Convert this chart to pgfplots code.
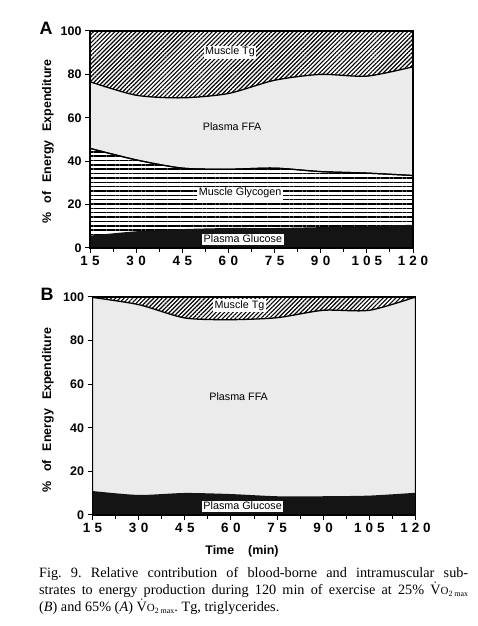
\documentclass[border=0pt]{standalone}
\usepackage{fontspec}
\setmainfont{Liberation Serif}
\newfontfamily\hv{Liberation Sans}
\usepackage{pgfplots}
\usepackage{pgfplotstable}
\pgfplotsset{compat=1.18}
\usetikzlibrary{patterns.meta}

% cumulative upper boundaries (% of energy expenditure)
\pgfplotstableread{
t   glu   gly   ffa   top
15  5.7   45.9  76.6  100
30  7.7   40.6  70.4  100
45  8.7   36.8  69.2  100
60  9.2   36.3  71.2  100
75  9.2   36.8  77.3  100
90  9.6   35.2  80.0  100
105 10.0  34.5  79.2  100
120 10.7  33.4  83.5  100
}\dataA
\pgfplotstableread{
t   glu   ffa   top
15  11.0  99.8  100
30  9.2   96.5  100
45  10.1  90.4  100
60  9.6   89.6  100
75  8.6   90.5  100
90  8.6   93.9  100
105 8.9   93.9  100
120 10.2  100   100
}\dataB

\definecolor{ffagray}{gray}{0.92}

\tikzset{
  tgfill/.style={draw=none, preaction={fill=white},
    pattern={Lines[angle=45,distance=3bp,line width=1.15bp]}},
  ffafill/.style={fill=ffagray, draw=black, line width=1.3bp},
  glyfill/.style={preaction={fill=white}, draw=black, line width=1.2bp,
    pattern={Lines[angle=0,distance=4.35bp,line width=1.5bp]}},
  glufill/.style={fill=black!92, draw=none},
  lab/.style={fill=white, inner sep=1.5bp, font=\hv\fontsize{10.8}{11}\selectfont},
}

\pgfplotsset{
  panel/.style={
    anchor=south west, scale only axis,
    width=323bp, height=217bp,
    xmin=15, xmax=120, ymin=0, ymax=100,
    xtick={15,30,...,120},
    minor xtick={22.5,37.5,...,112.5},
    ytick={0,20,...,100},
    yticklabels={0,20,40,60,80,100},
    xticklabels={1\hspace{4.5bp}5,3\hspace{4.5bp}0,4\hspace{4.5bp}5,6\hspace{4.5bp}0,7\hspace{4.5bp}5,9\hspace{4.5bp}0,1\hspace{4bp}0\hspace{4bp}5,1\hspace{4bp}2\hspace{4bp}0},
    tick align=outside, xtick pos=bottom, ytick pos=left,
    major tick length=5bp, minor tick length=4bp,
    every tick/.style={black, line width=1bp},
    axis line style={line width=1.3bp},
    xticklabel style={font=\hv\bfseries\fontsize{13.5}{14}\selectfont},
    yticklabel style={font=\hv\bfseries\fontsize{12.5}{14}\selectfont},
    axis on top,
    clip=true,
  },
}

\begin{document}
\frenchspacing
\begin{tikzpicture}[x=1bp,y=1bp]
\useasboundingbox (0,0) rectangle (478,626);

% ---------- Panel A ----------
\begin{axis}[panel, at={(90bp,378bp)}]
\addplot[tgfill] table[x=t,y=top]{\dataA} \closedcycle;
\addplot[ffafill, smooth, tension=0.45] table[x=t,y=ffa]{\dataA} \closedcycle;
\addplot[glyfill, smooth, tension=0.45] table[x=t,y=gly]{\dataA} \closedcycle;
\addplot[glufill, smooth, tension=0.45] table[x=t,y=glu]{\dataA} \closedcycle;
\node[lab] at (axis cs:60.5,90.3) {Muscle Tg};
\node[lab, fill=none] at (axis cs:61.2,55.8) {Plasma FFA};
\node[lab] at (axis cs:63.8,25.3) {Muscle Glycogen};
\node[lab] at (axis cs:64.7,4.1) {Plasma Glucose};
\end{axis}

% ---------- Panel B ----------
\begin{axis}[panel, at={(92.5bp,111bp)}, height=218bp]
\addplot[tgfill] table[x=t,y=top]{\dataB} \closedcycle;
\addplot[ffafill, smooth, tension=0.45] table[x=t,y=ffa]{\dataB} \closedcycle;
\addplot[glufill, smooth, tension=0.45] table[x=t,y=glu]{\dataB} \closedcycle;
\node[lab] at (axis cs:62.8,95.9) {Muscle Tg};
\node[lab, fill=none] at (axis cs:62.5,54.3) {Plasma FFA};
\node[lab] at (axis cs:63.8,4.1) {Plasma Glucose};
\end{axis}

% panel letters
\node[font=\hv\bfseries\fontsize{18}{18}\selectfont] at (46,598) {A};
\node[font=\hv\bfseries\fontsize{18}{18}\selectfont] at (47,332) {B};

% y labels
\node[rotate=90, font=\hv\bfseries\fontsize{12.5}{14}\selectfont] at (48,484.5)
  {\%\hspace{9bp}of\hspace{9bp}Energy\hspace{9bp}Expenditure};
\node[rotate=90, font=\hv\bfseries\fontsize{12.5}{14}\selectfont] at (48,216)
  {\%\hspace{9bp}of\hspace{9bp}Energy\hspace{9bp}Expenditure};

% x label
\node[font=\hv\bfseries\fontsize{12.5}{14}\selectfont] at (242,75) {Time\hspace{14bp}(min)};

% caption
\begin{scope}[every node/.style={anchor=base west, inner sep=0pt, font=\fontsize{14.3}{16}\selectfont}]
\node at (39,48) {\makebox[429bp][s]{Fig. 9. Relative contribution of blood-borne and intramuscular sub-}};
\node at (39,31) {\makebox[429bp][s]{strates to energy production during 120 min of exercise at 25\% $\dot{\hbox{V}}$\hbox{\fontsize{11}{11}\selectfont O}\raisebox{-2bp}{\fontsize{8}{8}\selectfont 2 max}}};
\node at (39,14) {(\textit{B}) and 65\% (\textit{A}) $\dot{\hbox{V}}$\hbox{\fontsize{11}{11}\selectfont O}\raisebox{-2bp}{\fontsize{8}{8}\selectfont 2 max}. Tg, triglycerides.};
\end{scope}
\end{tikzpicture}
\end{document}
